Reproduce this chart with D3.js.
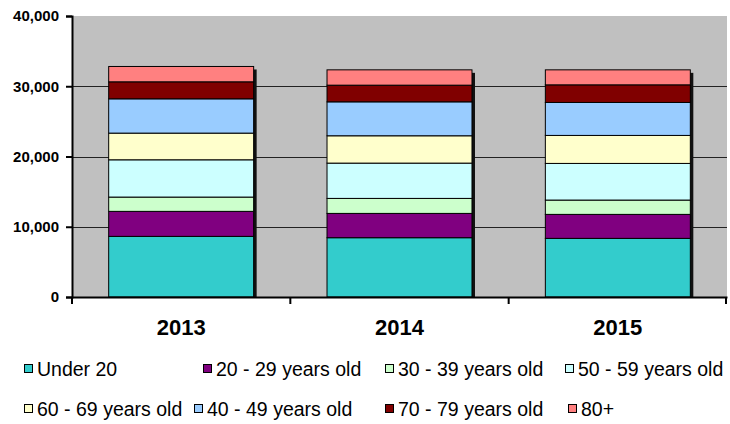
<!DOCTYPE html>
<html>
<head>
<meta charset="utf-8">
<script src="https://cdn.jsdelivr.net/npm/d3@7/dist/d3.min.js"></script>
<style>
  html, body { margin: 0; padding: 0; background: #fff; }
  svg { display: block; }
  text { font-family: Arial, "Liberation Sans", sans-serif; }
</style>
</head>
<body>
<svg id="chart" width="730" height="424"></svg>
<script>
// ---- data ----
const years = ["2013", "2014", "2015"];
const seriesNames = ["Under 20", "20 - 29 years old", "30 - 39 years old", "50 - 59 years old",
                     "60 - 69 years old", "40 - 49 years old", "70 - 79 years old", "80+"];
const under20   = [8630, 8440, 8345];
const age20_29  = [3560, 3460, 3415];
const age30_39  = [2035, 2135, 2040];
const age50_59  = [5305, 5025, 5215];
const age60_69  = [3800, 3890, 3985];
const age40_49  = [4880, 4830, 4695];
const age70_79  = [2420, 2375, 2505];
const age80plus = [2185, 2180, 2135];
const yTicks = [0, 10000, 20000, 30000, 40000];
const colors = ["#33CCCC", "#800080", "#CCFFCC", "#CCFFFF", "#FFFFCC", "#99CCFF", "#800000", "#FF8080"];

const seriesValues = [under20, age20_29, age30_39, age50_59, age60_69, age40_49, age70_79, age80plus];
const table = years.map((y, i) => {
  const row = { year: y };
  seriesNames.forEach((s, k) => row[s] = seriesValues[k][i]);
  return row;
});

// ---- layout ----
const FONT = "Arial, 'Liberation Sans', sans-serif";
const svg = d3.select("#chart");
const plot = { left: 72, right: 727, top: 16, bottom: 297 };

const x = d3.scaleBand().domain(years).range([plot.left, plot.right])
  .paddingInner(0.336).paddingOuter(0.168);
const y = d3.scaleLinear().domain([0, 40000]).range([plot.bottom, plot.top]);

// plot background
svg.append("rect")
  .attr("x", plot.left).attr("y", plot.top)
  .attr("width", plot.right - plot.left).attr("height", plot.bottom - plot.top)
  .attr("fill", "#C0C0C0");

// gridlines
svg.append("g").selectAll("line").data(yTicks.filter(d => d > 0 && d < 40000)).join("line")
  .attr("x1", plot.left).attr("x2", plot.right)
  .attr("y1", d => Math.round(y(d)) + 0.5).attr("y2", d => Math.round(y(d)) + 0.5)
  .attr("stroke", "#222").attr("stroke-width", 1);

// stacks
const stack = d3.stack().keys(seriesNames);
const stacked = stack(table);

// shadows
svg.append("g").selectAll("rect").data(table).join("rect")
  .attr("x", d => x(d.year) + 3)
  .attr("y", d => y(d3.sum(seriesNames, s => d[s])) + 3)
  .attr("width", x.bandwidth())
  .attr("height", d => plot.bottom - y(d3.sum(seriesNames, s => d[s])) - 3)
  .attr("fill", "#111");

const layers = svg.append("g").selectAll("g").data(stacked).join("g")
  .attr("fill", (d, i) => colors[i]);
layers.selectAll("rect").data(d => d).join("rect")
  .attr("x", d => x(d.data.year))
  .attr("y", d => y(d[1]))
  .attr("width", x.bandwidth())
  .attr("height", d => y(d[0]) - y(d[1]))
  .attr("stroke", "#000").attr("stroke-width", 1);

// y axis
const yAxis = svg.append("g").attr("transform", `translate(${plot.left},0)`)
  .call(d3.axisLeft(y).tickValues(yTicks).tickSize(6).tickPadding(7)
    .tickFormat(d3.format(",")));
yAxis.attr("font-family", FONT);
yAxis.select(".domain").attr("stroke", "#000").attr("stroke-width", 2);
yAxis.selectAll(".tick line").attr("stroke", "#000").attr("stroke-width", 2);
yAxis.selectAll(".tick text").attr("font-size", 15).attr("font-weight", "bold")
  .attr("fill", "#000");

// x axis
const xAxis = svg.append("g").attr("transform", `translate(0,${plot.bottom})`)
  .call(d3.axisBottom(x).tickSize(0).tickPadding(0));
xAxis.attr("font-family", FONT);
xAxis.select(".domain").attr("stroke", "#000").attr("stroke-width", 2);
xAxis.selectAll(".tick text").attr("font-size", 22).attr("font-weight", "bold")
  .attr("fill", "#000").attr("dy", 0).attr("y", 38);
// boundary ticks between categories
const step = x.step();
const boundaries = d3.range(years.length + 1).map(i => plot.left + i * step);
svg.append("g").selectAll("line").data(boundaries).join("line")
  .attr("x1", d => Math.min(d, plot.right - 1)).attr("x2", d => Math.min(d, plot.right - 1))
  .attr("y1", plot.bottom).attr("y2", plot.bottom + 7)
  .attr("stroke", "#000").attr("stroke-width", 2);

// legend
const legendPos = [
  [24, 376], [203, 376], [385, 376], [565, 376],
  [24, 416], [194, 416], [385, 416], [568, 416]
];
const legend = svg.append("g").selectAll("g").data(seriesNames).join("g")
  .attr("transform", (d, i) => `translate(${legendPos[i][0]},${legendPos[i][1]})`);
legend.append("rect")
  .attr("x", 0.5).attr("y", -11.5).attr("width", 8).attr("height", 8)
  .attr("fill", (d, i) => colors[i]).attr("stroke", "#000").attr("stroke-width", 1);
legend.append("text")
  .attr("x", 13).attr("y", 0)
  .attr("font-size", 19.5).attr("fill", "#000").attr("font-family", FONT)
  .text(d => d);
</script>
</body>
</html>
